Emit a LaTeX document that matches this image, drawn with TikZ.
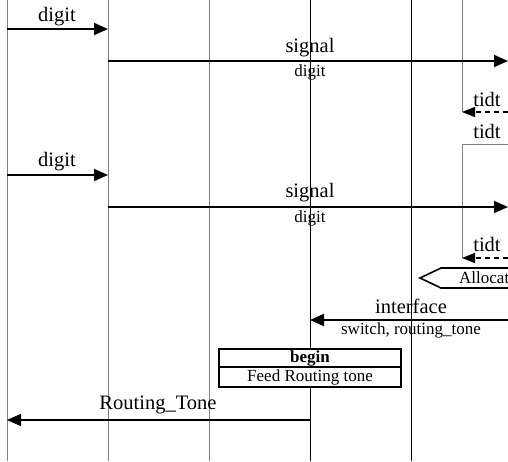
\documentclass[tikz,border=0pt]{standalone}
\usepackage{fontspec}
\setmainfont{Liberation Serif}
\usetikzlibrary{arrows.meta, positioning}

\begin{document}
\begin{tikzpicture}[x=1pt, y=-1pt,
    msg/.style={line width=1.8pt, -{Triangle[length=14pt, width=12pt]}},
    reply/.style={line width=1.2pt, dash pattern=on 5pt off 4pt, -{Triangle[length=13pt, width=10pt]}},
    life/.style={line width=0.9pt},
    lbl/.style={font=\fontsize{20.5}{22}\selectfont, inner sep=0pt},
    sub/.style={font=\fontsize{17}{19}\selectfont, inner sep=0pt}]

    \useasboundingbox (0,0) rectangle (508,461);

    % lifelines
    \foreach \n/\x/\c in {a/7/gray, b/108/gray, c/209/gray, d/310/black, e/411/black} {
        \coordinate (\n top) at (\x,0);
        \coordinate (\n bot) at (\x,461);
        \draw[life, \c] (\n top) -- (\n bot);
    }

    % timer
    \coordinate (t1) at (462,0);
    \coordinate (t2) at (462,112);
    \coordinate (t3) at (530,144);
    \coordinate (t4) at (462,144);
    \coordinate (t5) at (462,258);
    \draw[life, gray] (t1) -- (t2);
    \draw[life, gray] (t3) -- (t4) -- (t5);

    % first digit
    \coordinate (m1a) at (7,29);
    \coordinate (m1b) at (108,29);
    \draw[msg] (m1a) -- (m1b);
    \node[lbl] (l1) at (57,17) {digit};

    \coordinate (m2a) at (108,61);
    \coordinate (m2b) at (508,61);
    \draw[msg] (m2a) -- (m2b);
    \node[lbl] (l2) at (310,48) {signal};
    \node[sub] (s2) at (310,72) {digit};

    \coordinate (m3a) at (508,112);
    \coordinate (m3b) at (462,112);
    \draw[reply] (m3a) -- (m3b);
    \node[lbl] (l3) at (487,99) {tidt};
    \node[lbl] (l4) at (487,131) {tidt};

    % second digit
    \coordinate (m4a) at (7,175);
    \coordinate (m4b) at (108,175);
    \draw[msg] (m4a) -- (m4b);
    \node[lbl] (l5) at (57,162) {digit};

    \coordinate (m5a) at (108,207);
    \coordinate (m5b) at (508,207);
    \draw[msg] (m5a) -- (m5b);
    \node[lbl] (l6) at (310,193) {signal};
    \node[sub] (s6) at (310,218) {digit};

    \coordinate (m6a) at (508,258);
    \coordinate (m6b) at (462,258);
    \draw[reply] (m6a) -- (m6b);
    \node[lbl] (l7) at (487,244) {tidt};

    % allocation
    \draw[line width=1.6pt, fill=white] (530,268) -- (441,268) -- (420,278) -- (441,288) -- (530,288);
    \node[sub, anchor=west] (alloc) at (459,278) {Allocat};

    \coordinate (m7a) at (508,320);
    \coordinate (m7b) at (310,320);
    \draw[msg] (m7a) -- (m7b);
    \node[lbl] (l8) at (411,306) {interface};
    \node[sub] (s8) at (411,330) {switch, routing\_tone};

    % feed box
    \node[draw, line width=1.6pt, fill=white, minimum width=182pt, minimum height=38pt, inner sep=0pt] (feed) at (310,368) {};
    \draw[line width=1.2pt] ([yshift=1pt]feed.west) -- ([yshift=1pt]feed.east);
    \node[sub, font=\fontsize{17}{19}\selectfont\bfseries] (beg) at (310,358) {begin};
    \node[sub] (fd) at (310,377) {Feed Routing tone};

    \coordinate (m8a) at (310,420);
    \coordinate (m8b) at (7,420);
    \draw[msg] (m8a) -- (m8b);
    \node[lbl] (l9) at (158,405) {Routing\_Tone};
\end{tikzpicture}
\end{document}
